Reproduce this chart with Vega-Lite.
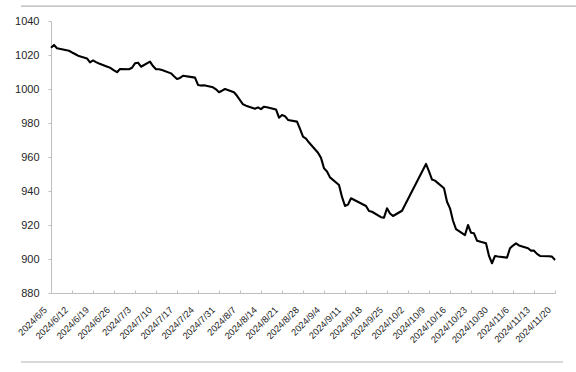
{
  "$schema": "https://vega.github.io/schema/vega-lite/v6.json",
  "width": 504,
  "height": 272,
  "autosize": {"type": "none"},
  "padding": {"left": 51, "top": 21, "right": 21, "bottom": 79},
  "background": "white",
  "config": {
    "view": {"stroke": null},
    "font": "Liberation Sans",
    "axisX": {
      "title": null,
      "format": "%Y/%-m/%-d",
      "labelAngle": -45,
      "labelAlign": "right",
      "labelBaseline": "middle",
      "labelFontSize": 9.3,
      "labelColor": "#262626",
      "labelOverlap": false,
      "labelPadding": 18,
      "labelOffset": -6,
      "labelBound": false,
      "labelFlush": false,
      "domainColor": "#bfbfbf",
      "tickColor": "#bfbfbf",
      "tickSize": -3,
      "grid": false
    },
    "axisY": {
      "title": null,
      "format": "d",
      "labelFontSize": 11,
      "labelColor": "#262626",
      "labelPadding": 9,
      "labelOverlap": false,
      "domainColor": "#bfbfbf",
      "tickColor": "#bfbfbf",
      "tickSize": 3,
      "grid": false
    }
  },
  "datasets": {
    "frame": [
      {"line": "top", "start": "2024-05-26T00:00:00", "end": "2024-11-27T00:00:00", "level": 1048.8},
      {"line": "bottom", "start": "2024-05-26T00:00:00", "end": "2024-11-22T16:00:00", "level": 839.4}
    ],
    "series": [
      {"date": "2024-06-05", "value": 1024.3},
      {"date": "2024-06-06", "value": 1025.9},
      {"date": "2024-06-07", "value": 1024.0},
      {"date": "2024-06-11", "value": 1022.5},
      {"date": "2024-06-12", "value": 1021.5},
      {"date": "2024-06-13", "value": 1020.6},
      {"date": "2024-06-14", "value": 1019.6},
      {"date": "2024-06-17", "value": 1018.0},
      {"date": "2024-06-18", "value": 1015.7},
      {"date": "2024-06-19", "value": 1016.8},
      {"date": "2024-06-20", "value": 1015.8},
      {"date": "2024-06-21", "value": 1015.0},
      {"date": "2024-06-24", "value": 1013.0},
      {"date": "2024-06-25", "value": 1012.2},
      {"date": "2024-06-26", "value": 1011.0},
      {"date": "2024-06-27", "value": 1009.9},
      {"date": "2024-06-28", "value": 1011.8},
      {"date": "2024-07-01", "value": 1011.6},
      {"date": "2024-07-02", "value": 1012.5},
      {"date": "2024-07-03", "value": 1015.1},
      {"date": "2024-07-04", "value": 1015.5},
      {"date": "2024-07-05", "value": 1013.1},
      {"date": "2024-07-08", "value": 1016.1},
      {"date": "2024-07-09", "value": 1013.5},
      {"date": "2024-07-10", "value": 1011.6},
      {"date": "2024-07-11", "value": 1011.6},
      {"date": "2024-07-12", "value": 1011.2},
      {"date": "2024-07-15", "value": 1009.2},
      {"date": "2024-07-16", "value": 1007.5},
      {"date": "2024-07-17", "value": 1005.9},
      {"date": "2024-07-18", "value": 1006.5},
      {"date": "2024-07-19", "value": 1007.8},
      {"date": "2024-07-22", "value": 1007.0},
      {"date": "2024-07-23", "value": 1006.7},
      {"date": "2024-07-24", "value": 1002.4},
      {"date": "2024-07-25", "value": 1002.0},
      {"date": "2024-07-26", "value": 1002.2},
      {"date": "2024-07-29", "value": 1001.0},
      {"date": "2024-07-30", "value": 999.8},
      {"date": "2024-07-31", "value": 998.1},
      {"date": "2024-08-01", "value": 999.0},
      {"date": "2024-08-02", "value": 1000.0},
      {"date": "2024-08-05", "value": 998.1},
      {"date": "2024-08-06", "value": 996.0},
      {"date": "2024-08-07", "value": 993.5},
      {"date": "2024-08-08", "value": 991.0},
      {"date": "2024-08-09", "value": 990.2},
      {"date": "2024-08-12", "value": 988.4},
      {"date": "2024-08-13", "value": 989.2},
      {"date": "2024-08-14", "value": 988.2},
      {"date": "2024-08-15", "value": 989.6},
      {"date": "2024-08-16", "value": 989.3},
      {"date": "2024-08-19", "value": 988.0},
      {"date": "2024-08-20", "value": 983.1},
      {"date": "2024-08-21", "value": 984.7},
      {"date": "2024-08-22", "value": 984.0},
      {"date": "2024-08-23", "value": 981.8},
      {"date": "2024-08-26", "value": 980.8},
      {"date": "2024-08-27", "value": 976.5},
      {"date": "2024-08-28", "value": 972.0},
      {"date": "2024-08-29", "value": 970.8},
      {"date": "2024-08-30", "value": 968.5},
      {"date": "2024-09-02", "value": 962.5},
      {"date": "2024-09-03", "value": 959.5},
      {"date": "2024-09-04", "value": 953.4},
      {"date": "2024-09-05", "value": 951.5},
      {"date": "2024-09-06", "value": 948.0},
      {"date": "2024-09-09", "value": 943.5},
      {"date": "2024-09-10", "value": 936.5},
      {"date": "2024-09-11", "value": 931.2},
      {"date": "2024-09-12", "value": 932.0},
      {"date": "2024-09-13", "value": 935.7},
      {"date": "2024-09-18", "value": 931.2},
      {"date": "2024-09-19", "value": 928.2},
      {"date": "2024-09-20", "value": 927.8},
      {"date": "2024-09-23", "value": 924.6},
      {"date": "2024-09-24", "value": 924.3},
      {"date": "2024-09-25", "value": 929.8},
      {"date": "2024-09-26", "value": 926.8},
      {"date": "2024-09-27", "value": 925.3},
      {"date": "2024-09-30", "value": 928.4},
      {"date": "2024-10-08", "value": 955.9},
      {"date": "2024-10-09", "value": 951.6},
      {"date": "2024-10-10", "value": 946.7},
      {"date": "2024-10-11", "value": 946.1},
      {"date": "2024-10-14", "value": 941.6},
      {"date": "2024-10-15", "value": 933.7},
      {"date": "2024-10-16", "value": 929.8},
      {"date": "2024-10-17", "value": 922.5},
      {"date": "2024-10-18", "value": 917.6},
      {"date": "2024-10-21", "value": 914.1},
      {"date": "2024-10-22", "value": 920.0},
      {"date": "2024-10-23", "value": 915.5},
      {"date": "2024-10-24", "value": 915.1},
      {"date": "2024-10-25", "value": 910.8},
      {"date": "2024-10-28", "value": 909.2},
      {"date": "2024-10-29", "value": 901.8},
      {"date": "2024-10-30", "value": 897.5},
      {"date": "2024-10-31", "value": 901.8},
      {"date": "2024-11-01", "value": 901.5},
      {"date": "2024-11-04", "value": 900.8},
      {"date": "2024-11-05", "value": 906.3},
      {"date": "2024-11-06", "value": 907.9},
      {"date": "2024-11-07", "value": 909.2},
      {"date": "2024-11-08", "value": 908.0},
      {"date": "2024-11-11", "value": 906.3},
      {"date": "2024-11-12", "value": 904.9},
      {"date": "2024-11-13", "value": 904.9},
      {"date": "2024-11-14", "value": 903.0},
      {"date": "2024-11-15", "value": 901.8},
      {"date": "2024-11-18", "value": 901.6},
      {"date": "2024-11-19", "value": 901.4},
      {"date": "2024-11-20", "value": 899.4}
    ]
  },
  "encoding": {
    "x": {
      "type": "temporal",
      "scale": {"domain": ["2024-06-05T00:00:00", "2024-11-20T00:00:00"], "nice": false},
      "axis": {
        "values": ["2024-06-05T00:00:00","2024-06-12T00:00:00","2024-06-19T00:00:00","2024-06-26T00:00:00","2024-07-03T00:00:00","2024-07-10T00:00:00","2024-07-17T00:00:00","2024-07-24T00:00:00","2024-07-31T00:00:00","2024-08-07T00:00:00","2024-08-14T00:00:00","2024-08-21T00:00:00","2024-08-28T00:00:00","2024-09-04T00:00:00","2024-09-11T00:00:00","2024-09-18T00:00:00","2024-09-25T00:00:00","2024-10-02T00:00:00","2024-10-09T00:00:00","2024-10-16T00:00:00","2024-10-23T00:00:00","2024-10-30T00:00:00","2024-11-06T00:00:00","2024-11-13T00:00:00","2024-11-20T00:00:00"]
      }
    },
    "y": {
      "type": "quantitative",
      "scale": {"domain": [880, 1040], "nice": false, "zero": false},
      "axis": {"values": [880, 900, 920, 940, 960, 980, 1000, 1020, 1040]}
    }
  },
  "layer": [
    {
      "data": {"name": "series"},
      "mark": {"type": "line", "color": "#000000", "strokeWidth": 2.1, "strokeJoin": "round"},
      "encoding": {
        "x": {"field": "date"},
        "y": {"field": "value"}
      }
    },
    {
      "data": {"name": "frame"},
      "mark": {"type": "rule", "color": "#b4b4b4", "strokeWidth": 1.2, "clip": false},
      "encoding": {
        "x": {"field": "start"},
        "x2": {"field": "end"},
        "y": {"field": "level"}
      }
    }
  ]
}
